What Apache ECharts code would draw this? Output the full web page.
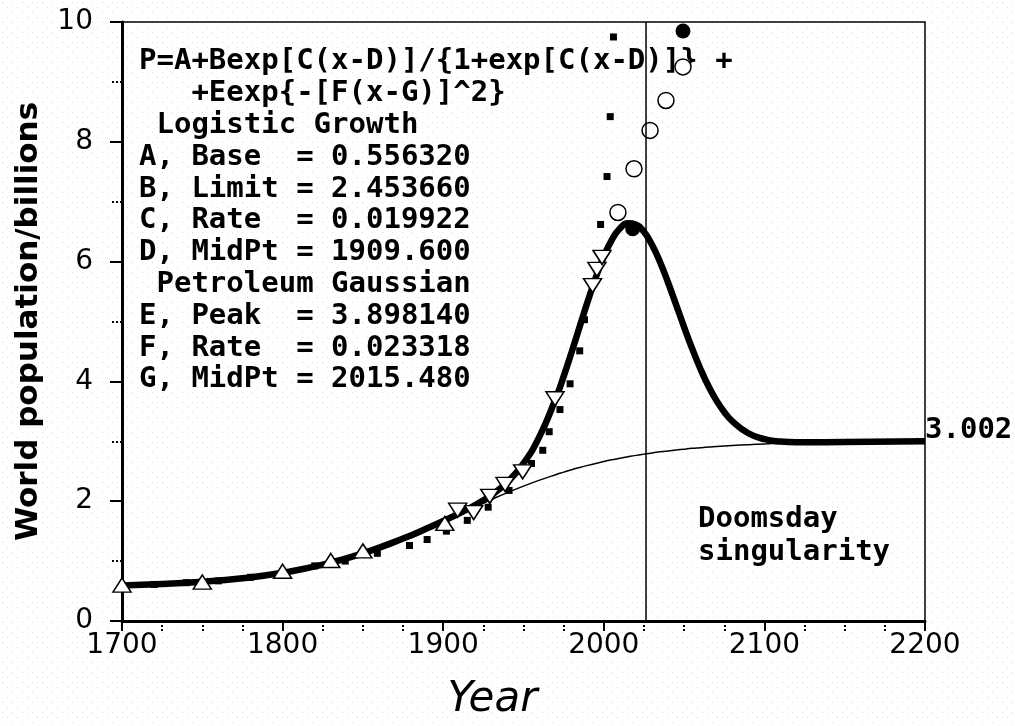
<!DOCTYPE html>
<html>
<head>
<meta charset="utf-8">
<script src="https://cdn.jsdelivr.net/npm/echarts@6/dist/echarts.min.js"></script>
<style>
  html, body { margin: 0; padding: 0; background: #fff; }
  #main { width: 1015px; height: 726px; }
</style>
</head>
<body>
<div id="main"></div>
<script>
// curve samples
const curveYears = [1700, 1725, 1750, 1775, 1800, 1825, 1850, 1875, 1890, 1900, 1910, 1920, 1930, 1940, 1950, 1960,
  1970, 1975, 1980, 1985, 1990, 1995, 2000, 2005, 2010, 2015, 2020, 2025, 2030, 2035, 2040, 2045, 2050, 2055,
  2060, 2065, 2070, 2075, 2080, 2090, 2100, 2110, 2120, 2150, 2200];
const logisticOnly = [0.593, 0.617, 0.654, 0.714, 0.805, 0.940, 1.130, 1.376, 1.547, 1.666, 1.788, 1.910, 2.029, 2.144, 2.252, 2.352,
  2.443, 2.485, 2.526, 2.563, 2.598, 2.631, 2.662, 2.691, 2.718, 2.742, 2.765, 2.786, 2.806, 2.824, 2.840, 2.855, 2.869, 2.882,
  2.893, 2.904, 2.913, 2.922, 2.930, 2.944, 2.956, 2.966, 2.973, 2.990, 3.002];
const logisticPlusGauss = [0.593, 0.617, 0.654, 0.714, 0.805, 0.940, 1.130, 1.376, 1.547, 1.669, 1.797, 1.937, 2.102, 2.320, 2.630, 3.083,
  3.709, 4.084, 4.491, 4.915, 5.337, 5.735, 6.084, 6.363, 6.553, 6.640, 6.620, 6.497, 6.282, 5.993, 5.651, 5.282, 4.908, 4.549,
  4.220, 3.931, 3.688, 3.490, 3.336, 3.134, 3.036, 2.996, 2.983, 2.990, 3.002];

// observed / projected points
const squarePts = [[1720, 0.61], [1740, 0.64], [1760, 0.67], [1780, 0.73], [1820, 0.92], [1839, 1.0], [1859, 1.13],
  [1879, 1.26], [1890, 1.36], [1902, 1.5], [1915, 1.68], [1928, 1.9], [1941, 2.18], [1955, 2.63], [1962, 2.85],
  [1966, 3.16], [1972.7, 3.53], [1979, 3.96], [1985, 4.51], [1988, 5.03], [1998, 6.62], [2002, 7.42], [2004, 8.42], [2006, 9.75]];
const triUpPts = [[1700, 0.6], [1750, 0.65], [1800, 0.83], [1830, 1.01], [1850, 1.17], [1901, 1.63]];
const triDownPts = [[1909, 1.85], [1919, 1.81], [1929, 2.08], [1938.5, 2.28], [1949.5, 2.49], [1969.6, 3.71],
  [1993, 5.6], [1995.7, 5.87], [1998.9, 6.07]];
const openCirclePts = [[2008.8, 6.82], [2018.8, 7.55], [2028.8, 8.19], [2038.7, 8.69], [2049.3, 9.25]];
const filledCirclePts = [[2018, 6.55], [2049.3, 9.85]];
const doomsdayYear = 2026;
const endValueLabel = '3.002';

const formulaLines = [
  'P=A+Bexp[C(x-D)]/{1+exp[C(x-D)]} +',
  '   +Eexp{-[F(x-G)]^2}',
  ' Logistic Growth',
  'A, Base  = 0.556320',
  'B, Limit = 2.453660',
  'C, Rate  = 0.019922',
  'D, MidPt = 1909.600',
  ' Petroleum Gaussian',
  'E, Peak  = 3.898140',
  'F, Rate  = 0.023318',
  'G, MidPt = 2015.480'
];

const mono = 'DejaVu Sans Mono';
const monoFont = 'bold 29px "' + mono + '"';

// stippled paper background
const pat = document.createElement('canvas');
pat.width = 10;
pat.height = 10;
const pctx = pat.getContext('2d');
pctx.fillStyle = '#ffffff';
pctx.fillRect(0, 0, 10, 10);
pctx.fillStyle = '#dadada';
pctx.fillRect(2, 2, 1, 1);
pctx.fillRect(7, 7, 1, 1);

const chart = echarts.init(document.getElementById('main'), null, { renderer: 'canvas' });

function pairs(xs, ys) {
  return xs.map((x, i) => [x, ys[i]]);
}

function markerSeries(data, symbol, size, filled, rotate) {
  return {
    type: 'scatter',
    data: data,
    symbol: symbol,
    symbolSize: size,
    symbolRotate: rotate || 0,
    z: 4,
    itemStyle: {
      color: filled ? '#000' : '#fff',
      borderColor: '#000',
      borderWidth: filled ? 0 : 1.5,
      opacity: 1
    },
    silent: true
  };
}

let option = {
  animation: false,
  backgroundColor: { image: pat, repeat: 'repeat' },
  grid: {
    left: 122, right: 90, top: 22, bottom: 103,
    show: true,
    borderColor: '#000',
    borderWidth: 1.5,
    backgroundColor: 'transparent'
  },
  xAxis: {
    type: 'value',
    min: 1700, max: 2200, interval: 100,
    name: 'Year',
    nameLocation: 'middle',
    nameGap: 58,
    nameTextStyle: { fontFamily: 'DejaVu Sans', fontStyle: 'italic', fontSize: 42, color: '#000', padding: [0, 62, 0, 0] },
    axisLine: { show: true, lineStyle: { color: '#000', width: 3 } },
    axisTick: { show: true, inside: false, length: 10, lineStyle: { color: '#000', width: 2 } },
    minorTick: { show: true, splitNumber: 4, length: 10, lineStyle: { color: '#000', width: 2, type: [2, 2] } },
    axisLabel: {
      fontFamily: 'DejaVu Sans', fontSize: 28, color: '#000', margin: 11,
      formatter: v => String(v)
    },
    splitLine: { show: false }
  },
  yAxis: {
    type: 'value',
    min: 0, max: 10, interval: 2,
    name: 'World population/billions',
    nameLocation: 'middle',
    nameGap: 78,
    nameTextStyle: { fontFamily: 'DejaVu Sans', fontWeight: 'bold', fontSize: 31, color: '#000' },
    axisLine: { show: true, lineStyle: { color: '#000', width: 3 } },
    axisTick: { show: true, inside: false, length: 12, lineStyle: { color: '#000', width: 2 } },
    minorTick: { show: true, splitNumber: 2, length: 10, lineStyle: { color: '#000', width: 2, type: [2, 2] } },
    axisLabel: { fontFamily: 'DejaVu Sans', fontSize: 28, color: '#000', margin: 29 },
    splitLine: { show: false }
  },
  graphic: [
    {
      type: 'text',
      left: 139, top: 46, z: 1,
      style: { text: formulaLines.join('\n'), font: monoFont, fill: '#000', lineHeight: 31.8 }
    },
    {
      type: 'text',
      left: 698, top: 503, z: 1,
      style: { text: 'Doomsday\nsingularity', font: monoFont, fill: '#000', lineHeight: 33 }
    }
  ],
  series: [
    {
      type: 'line',
      data: pairs(curveYears, logisticOnly),
      smooth: true,
      showSymbol: false,
      z: 2,
      lineStyle: { color: '#000', width: 1.5 },
      markLine: {
        silent: true,
        symbol: 'none',
        label: { show: false },
        lineStyle: { color: '#000', width: 1.5, type: 'solid' },
        data: [{ xAxis: doomsdayYear }]
      }
    },
    {
      type: 'line',
      data: pairs(curveYears, logisticPlusGauss),
      smooth: true,
      showSymbol: false,
      z: 3,
      lineStyle: { color: '#000', width: 6.5 },
      endLabel: {
        show: true,
        formatter: endValueLabel,
        distance: 0,
        offset: [0, -11],
        fontFamily: mono,
        fontWeight: 'bold',
        fontSize: 29,
        color: '#000'
      }
    },
    markerSeries(squarePts, 'rect', 7, true),
    markerSeries(triUpPts, 'triangle', [18, 14], false),
    markerSeries(triDownPts, 'triangle', [18, 14], false, 180),
    markerSeries(openCirclePts, 'circle', 16, false),
    markerSeries(filledCirclePts, 'circle', 15, true)
  ]
};

chart.setOption(option);
</script>
</body>
</html>
